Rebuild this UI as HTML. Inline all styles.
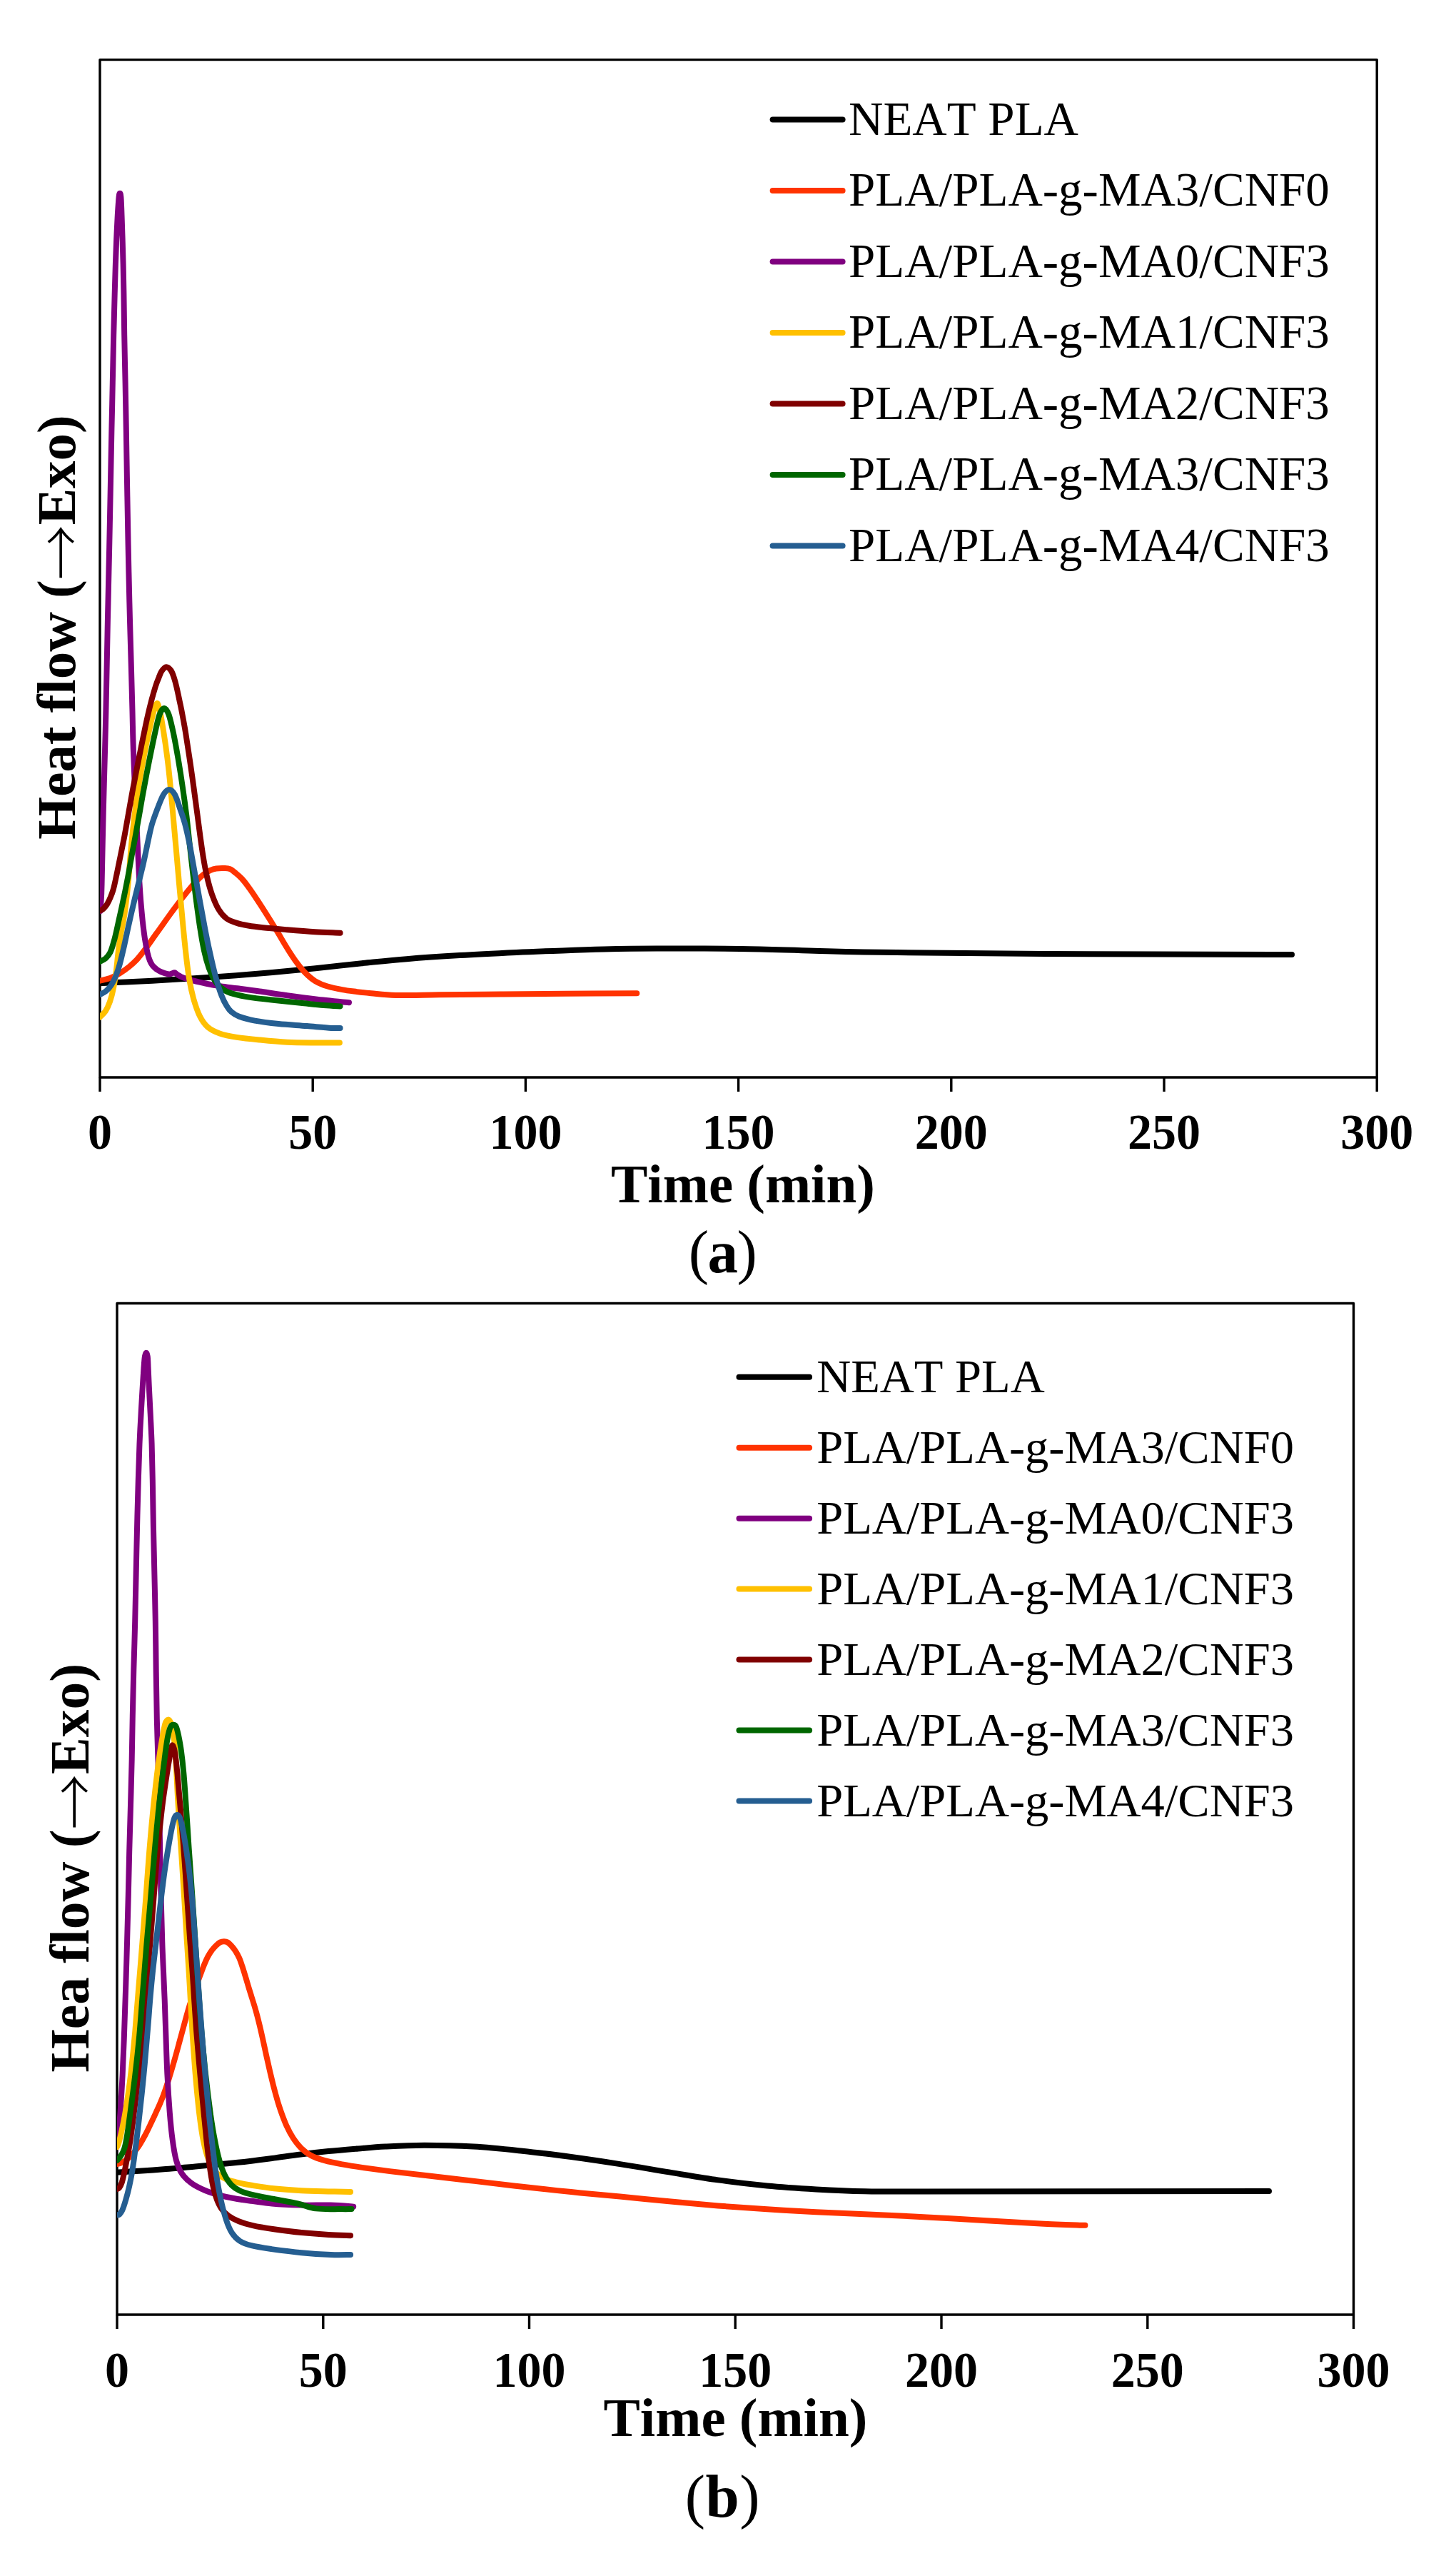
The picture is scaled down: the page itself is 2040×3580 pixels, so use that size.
<!DOCTYPE html>
<html><head><meta charset="utf-8"><title>Heat flow vs time</title>
<style>html,body{margin:0;padding:0;background:#fff;}svg{display:block;} text{font-kerning:none;font-variant-ligatures:none;}</style></head>
<body>
<svg width="2040" height="3580" viewBox="0 0 2040 3580">
<rect width="2040" height="3580" fill="#fff"/>
<clipPath id="ca"><rect x="140.0" y="83.6" width="1789.2" height="1425.4"/></clipPath>
<rect x="140.0" y="83.6" width="1789.2" height="1425.4" fill="none" stroke="#000" stroke-width="3.4" stroke-linejoin="round"/>
<line x1="140.0" y1="1509.0" x2="140.0" y2="1529.0" stroke="#000" stroke-width="3.4"/>
<line x1="438.2" y1="1509.0" x2="438.2" y2="1529.0" stroke="#000" stroke-width="3.4"/>
<line x1="736.4" y1="1509.0" x2="736.4" y2="1529.0" stroke="#000" stroke-width="3.4"/>
<line x1="1034.6" y1="1509.0" x2="1034.6" y2="1529.0" stroke="#000" stroke-width="3.4"/>
<line x1="1332.8" y1="1509.0" x2="1332.8" y2="1529.0" stroke="#000" stroke-width="3.4"/>
<line x1="1631.0" y1="1509.0" x2="1631.0" y2="1529.0" stroke="#000" stroke-width="3.4"/>
<line x1="1929.2" y1="1509.0" x2="1929.2" y2="1529.0" stroke="#000" stroke-width="3.4"/>
<g clip-path="url(#ca)" fill="none" stroke-width="8.0" stroke-linecap="round" stroke-linejoin="round">
<path d="M140.0 1377.3 C146.0 1377.0 163.8 1376.0 176.0 1375.4 C188.2 1374.8 200.5 1374.4 213.4 1373.7 C226.3 1373.0 240.6 1372.1 253.5 1371.3 C266.4 1370.5 277.9 1369.8 290.8 1368.9 C303.7 1368.1 315.7 1367.4 330.9 1366.3 C346.0 1365.1 363.3 1363.7 381.8 1362.0 C400.4 1360.4 421.3 1358.3 442.1 1356.2 C463.0 1354.0 485.6 1351.4 506.9 1349.2 C528.2 1347.1 547.0 1345.0 569.9 1343.2 C592.8 1341.3 618.6 1339.6 644.2 1338.1 C669.8 1336.5 699.5 1335.1 723.6 1334.0 C747.6 1332.8 768.0 1332.1 788.4 1331.4 C808.8 1330.6 824.2 1330.0 846.1 1329.5 C868.0 1329.0 888.1 1328.6 920.0 1328.5 C951.9 1328.4 1000.7 1328.5 1037.4 1329.0 C1074.1 1329.5 1103.8 1330.8 1140.4 1331.7 C1177.0 1332.6 1203.0 1333.4 1256.8 1334.1 C1310.6 1334.8 1371.1 1335.6 1463.3 1336.0 C1555.5 1336.5 1752.2 1336.8 1810.0 1337.0" stroke="#000000"/>
<path d="M140.0 1373.7 C142.4 1373.1 149.4 1371.8 154.1 1370.1 C158.8 1368.3 163.7 1365.8 168.1 1363.1 C172.6 1360.5 177.0 1357.2 181.0 1354.0 C184.9 1350.8 188.0 1348.0 191.8 1344.0 C195.5 1339.9 198.7 1335.8 203.3 1329.7 C207.9 1323.5 213.5 1315.4 219.4 1307.2 C225.4 1298.9 232.6 1288.5 238.8 1280.0 C245.1 1271.4 251.6 1262.6 256.7 1256.1 C261.8 1249.5 265.8 1244.7 269.3 1240.5 C272.9 1236.4 275.2 1234.0 277.9 1231.3 C280.7 1228.6 283.2 1226.3 285.9 1224.3 C288.7 1222.3 291.6 1220.5 294.4 1219.2 C297.3 1217.9 299.7 1217.0 303.0 1216.5 C306.3 1216.0 310.8 1215.9 314.0 1216.0 C317.2 1216.1 319.5 1216.0 322.2 1217.2 C324.9 1218.4 327.7 1220.8 330.4 1223.0 C333.2 1225.2 335.9 1227.6 338.7 1230.5 C341.4 1233.5 344.2 1237.0 347.0 1240.8 C349.8 1244.5 352.4 1248.4 355.5 1252.9 C358.5 1257.4 361.7 1262.2 365.3 1267.8 C368.9 1273.5 373.2 1280.2 377.4 1286.8 C381.5 1293.3 385.9 1300.6 390.0 1307.4 C394.1 1314.2 398.0 1321.0 402.0 1327.5 C406.1 1334.0 410.1 1340.5 414.4 1346.3 C418.7 1352.2 423.2 1357.9 427.8 1362.6 C432.4 1367.3 436.7 1371.1 441.9 1374.3 C447.1 1377.4 452.7 1379.6 458.9 1381.5 C465.2 1383.5 472.5 1384.9 479.4 1386.1 C486.2 1387.4 493.2 1388.2 500.0 1389.1 C506.8 1390.0 510.9 1390.5 520.0 1391.3 C529.1 1392.1 538.7 1393.7 554.6 1394.0 C570.5 1394.3 590.9 1393.6 615.4 1393.3 C639.9 1393.0 672.3 1392.7 701.9 1392.5 C731.5 1392.2 761.0 1391.9 792.8 1391.8 C824.5 1391.6 875.7 1391.4 892.3 1391.3" stroke="#FF3300"/>
<path d="M140.5 1276.0 C140.7 1274.2 141.1 1269.1 141.4 1265.0 C141.7 1260.9 141.9 1257.7 142.2 1251.2 C142.4 1244.8 142.6 1238.4 142.8 1226.2 C143.1 1214.1 143.4 1196.8 143.8 1178.3 C144.2 1159.9 144.7 1136.4 145.3 1115.6 C145.8 1094.8 146.5 1073.4 147.0 1053.5 C147.5 1033.5 148.0 1015.6 148.4 995.9 C148.9 976.3 149.2 956.7 149.6 935.5 C150.0 914.3 150.5 891.1 150.9 868.8 C151.4 846.4 152.0 823.7 152.4 801.5 C152.9 779.3 153.4 757.9 153.8 735.8 C154.2 713.6 154.7 691.1 155.1 668.8 C155.5 646.4 156.0 623.7 156.4 601.5 C156.9 579.3 157.4 557.9 157.8 535.8 C158.3 513.6 158.8 489.6 159.2 468.8 C159.7 447.9 160.2 427.2 160.7 410.8 C161.1 394.3 161.5 382.8 161.9 370.0 C162.4 357.2 162.8 345.6 163.2 334.1 C163.7 322.7 164.3 310.9 164.8 301.2 C165.4 291.6 166.1 281.1 166.6 276.0 C167.1 270.9 167.5 270.8 168.0 270.8 C168.5 270.8 169.0 270.9 169.4 276.0 C169.8 281.1 170.2 291.6 170.5 301.2 C170.9 310.9 171.2 322.7 171.6 334.1 C171.9 345.6 172.3 357.2 172.6 370.0 C172.9 382.8 173.1 394.3 173.4 410.8 C173.6 427.2 173.9 447.9 174.2 468.8 C174.6 489.6 175.1 513.6 175.6 535.8 C176.0 557.9 176.4 579.3 176.8 601.5 C177.2 623.7 177.5 646.4 177.9 668.8 C178.3 691.1 178.7 713.6 179.1 735.8 C179.5 757.9 179.9 779.3 180.4 801.5 C180.9 823.7 181.4 846.4 182.0 868.8 C182.6 891.1 183.3 914.3 183.9 935.5 C184.4 956.7 185.0 977.0 185.5 996.0 C185.9 1015.0 186.2 1031.1 186.8 1049.2 C187.4 1067.4 188.1 1085.8 189.0 1104.8 C189.8 1123.7 191.0 1145.0 191.8 1162.8 C192.7 1180.5 193.3 1196.1 194.1 1211.0 C194.8 1225.9 195.5 1239.1 196.5 1252.2 C197.4 1265.4 198.7 1279.1 199.8 1290.0 C201.0 1300.9 202.2 1310.1 203.4 1317.6 C204.5 1325.1 205.6 1330.2 206.7 1334.9 C207.8 1339.5 208.8 1342.7 210.0 1345.6 C211.2 1348.6 212.4 1350.6 213.9 1352.6 C215.4 1354.5 217.3 1356.0 219.2 1357.5 C221.2 1358.9 222.8 1360.0 225.7 1361.2 C228.6 1362.4 233.9 1364.1 236.4 1364.5 C238.9 1364.9 239.1 1364.0 240.5 1363.6 C241.9 1363.2 243.2 1361.9 244.6 1362.2 C246.0 1362.5 247.0 1364.3 249.0 1365.5 C251.0 1366.7 253.2 1367.9 256.6 1369.2 C260.0 1370.4 264.2 1371.7 269.4 1373.1 C274.7 1374.5 281.4 1376.2 288.0 1377.5 C294.6 1378.9 301.4 1380.1 308.8 1381.2 C316.2 1382.4 323.3 1383.1 332.4 1384.3 C341.6 1385.5 352.0 1386.8 363.7 1388.5 C375.4 1390.2 388.9 1392.4 402.4 1394.2 C415.9 1396.1 430.2 1398.0 444.6 1399.7 C459.1 1401.4 481.6 1403.5 489.0 1404.2" stroke="#800080"/>
<path d="M140.0 1424.5 C141.3 1423.1 145.4 1419.8 147.8 1416.2 C150.1 1412.6 152.1 1408.2 154.0 1402.8 C155.9 1397.5 157.5 1391.4 158.9 1384.3 C160.4 1377.2 161.6 1368.9 162.8 1360.2 C163.9 1351.6 164.7 1341.3 165.8 1332.6 C166.9 1323.9 167.9 1316.7 169.3 1308.1 C170.8 1299.6 172.6 1293.1 174.3 1281.5 C176.0 1269.8 177.8 1255.2 179.5 1238.2 C181.2 1221.2 182.3 1200.0 184.4 1179.5 C186.5 1159.0 189.0 1136.0 192.0 1115.4 C195.0 1094.9 199.0 1073.7 202.3 1056.1 C205.7 1038.5 209.2 1021.8 212.0 1010.0 C214.8 998.2 217.3 987.8 219.3 985.5 C221.3 983.2 222.3 989.4 224.0 996.0 C225.7 1002.6 227.4 1014.0 229.2 1025.1 C231.0 1036.2 232.9 1049.3 234.5 1062.3 C236.2 1075.4 237.7 1090.1 239.0 1103.6 C240.3 1117.0 241.4 1129.4 242.6 1143.0 C243.8 1156.7 245.0 1169.8 246.4 1185.4 C247.8 1201.0 249.4 1219.2 250.9 1236.6 C252.5 1254.0 254.3 1273.2 255.8 1289.7 C257.4 1306.1 258.9 1321.9 260.4 1335.3 C261.9 1348.7 263.2 1359.7 265.0 1370.3 C266.7 1380.8 268.7 1389.9 271.1 1398.7 C273.6 1407.4 276.4 1416.0 279.7 1422.7 C283.0 1429.3 286.4 1434.4 291.0 1438.5 C295.7 1442.6 300.9 1445.0 307.7 1447.4 C314.5 1449.8 322.4 1451.4 331.8 1452.9 C341.1 1454.4 351.9 1455.4 363.7 1456.5 C375.5 1457.7 389.1 1459.1 402.4 1459.8 C415.7 1460.5 431.4 1460.4 443.6 1460.5 C455.9 1460.6 470.5 1460.5 475.9 1460.5" stroke="#FFC000"/>
<path d="M140.0 1275.5 C140.8 1275.1 143.1 1274.4 144.8 1272.9 C146.5 1271.3 148.4 1269.0 150.1 1266.3 C151.8 1263.6 153.4 1260.2 154.8 1256.8 C156.2 1253.4 157.3 1250.7 158.7 1246.0 C160.0 1241.2 161.2 1235.7 162.8 1228.0 C164.5 1220.3 166.6 1209.3 168.6 1199.8 C170.5 1190.2 172.6 1180.4 174.5 1170.6 C176.3 1160.8 177.8 1152.0 179.8 1140.8 C181.8 1129.6 184.0 1116.7 186.5 1103.6 C189.0 1090.5 192.0 1075.3 194.6 1062.3 C197.1 1049.4 199.8 1036.3 202.0 1025.9 C204.1 1015.5 205.8 1007.6 207.6 999.9 C209.4 992.1 211.0 985.8 212.7 979.3 C214.5 972.8 216.4 966.2 218.0 961.1 C219.6 956.0 221.1 952.3 222.6 948.8 C224.0 945.2 224.8 942.4 226.5 940.0 C228.2 937.6 230.8 934.4 233.0 934.2 C235.2 934.0 237.7 936.6 239.5 939.0 C241.3 941.4 242.3 944.8 243.6 948.5 C244.8 952.2 245.9 956.0 247.1 961.1 C248.4 966.3 249.7 972.8 251.1 979.3 C252.4 985.8 253.9 992.1 255.3 999.9 C256.8 1007.6 258.3 1015.5 260.0 1025.9 C261.7 1036.3 263.7 1049.4 265.6 1062.3 C267.6 1075.3 269.7 1090.5 271.5 1103.6 C273.3 1116.7 275.0 1129.5 276.5 1140.8 C278.0 1152.1 279.2 1161.4 280.5 1171.2 C281.9 1181.0 283.0 1190.0 284.6 1199.4 C286.1 1208.8 287.8 1218.5 289.9 1227.5 C292.0 1236.5 294.5 1245.8 297.3 1253.6 C300.1 1261.4 303.2 1268.8 306.6 1274.2 C309.9 1279.7 313.3 1283.5 317.5 1286.6 C321.7 1289.7 326.8 1291.2 331.9 1292.9 C336.9 1294.5 341.8 1295.4 347.9 1296.5 C354.0 1297.5 359.6 1298.2 368.7 1299.2 C377.8 1300.2 390.3 1301.2 402.4 1302.2 C414.5 1303.2 429.2 1304.4 441.5 1305.2 C453.9 1305.9 470.8 1306.4 476.6 1306.7" stroke="#800000"/>
<path d="M140.0 1346.8 C141.3 1346.1 145.6 1344.6 148.0 1342.4 C150.4 1340.2 152.5 1338.3 154.6 1333.7 C156.7 1329.1 158.5 1322.7 160.6 1314.9 C162.7 1307.0 164.9 1296.2 167.0 1286.7 C169.1 1277.2 171.3 1267.5 173.3 1257.9 C175.3 1248.3 177.2 1238.9 179.1 1229.1 C180.9 1219.3 182.7 1208.8 184.4 1199.2 C186.2 1189.7 187.9 1181.2 189.6 1171.6 C191.4 1161.9 193.1 1152.6 195.1 1141.3 C197.1 1130.0 199.3 1116.8 201.8 1103.6 C204.2 1090.4 207.1 1075.2 209.7 1062.3 C212.3 1049.5 214.9 1036.6 217.2 1026.3 C219.6 1016.1 221.4 1006.7 223.5 1001.0 C225.6 995.3 227.8 992.0 230.0 992.0 C232.2 992.0 234.4 995.3 236.5 1001.0 C238.6 1006.7 240.6 1016.1 242.8 1026.2 C245.0 1036.4 247.3 1049.3 249.5 1062.2 C251.7 1075.0 254.1 1090.0 256.0 1103.5 C258.0 1117.0 259.7 1129.4 261.4 1143.0 C263.0 1156.7 264.2 1169.1 266.0 1185.4 C267.8 1201.7 270.1 1222.5 272.4 1241.0 C274.6 1259.4 277.5 1280.8 279.7 1295.9 C282.0 1310.9 283.7 1321.2 285.9 1331.2 C288.0 1341.2 290.0 1348.3 292.7 1355.8 C295.5 1363.2 298.7 1370.4 302.4 1375.6 C306.1 1380.9 310.0 1384.3 314.9 1387.2 C319.9 1390.2 325.4 1391.7 332.1 1393.4 C338.8 1395.1 346.2 1396.4 355.1 1397.6 C364.0 1398.8 374.2 1399.7 385.2 1400.9 C396.3 1402.1 409.9 1403.5 421.3 1404.7 C432.7 1405.9 444.4 1407.3 453.6 1408.1 C462.8 1408.9 472.8 1409.2 476.6 1409.4" stroke="#006600"/>
<path d="M140.0 1392.9 C141.4 1392.1 145.8 1390.5 148.4 1388.3 C151.1 1386.1 153.7 1383.0 156.0 1379.5 C158.3 1375.9 160.3 1371.9 162.2 1367.1 C164.1 1362.3 165.8 1357.6 167.7 1350.6 C169.6 1343.7 171.5 1335.6 173.8 1325.5 C176.1 1315.4 178.7 1302.4 181.6 1289.8 C184.4 1277.1 187.8 1263.0 191.0 1249.8 C194.2 1236.5 197.9 1222.3 200.7 1210.2 C203.4 1198.2 205.6 1186.7 207.6 1177.4 C209.6 1168.1 210.8 1161.9 212.9 1154.5 C215.1 1147.2 217.7 1140.3 220.3 1133.4 C223.0 1126.5 226.2 1117.6 229.0 1113.0 C231.8 1108.4 234.3 1106.0 237.0 1106.0 C239.7 1106.0 242.4 1108.4 245.0 1113.0 C247.6 1117.6 250.1 1126.5 252.5 1133.4 C254.9 1140.3 257.1 1146.1 259.3 1154.5 C261.5 1163.0 263.2 1170.3 266.0 1184.3 C268.7 1198.4 272.4 1220.1 275.8 1238.7 C279.2 1257.3 283.2 1279.9 286.3 1295.9 C289.3 1311.9 291.5 1322.7 294.2 1334.7 C296.8 1346.6 299.3 1357.8 302.1 1367.8 C304.8 1377.8 307.9 1387.8 310.6 1394.7 C313.2 1401.6 315.5 1405.4 317.8 1409.2 C320.1 1413.0 321.4 1414.9 324.2 1417.3 C327.1 1419.8 329.6 1421.7 335.1 1423.8 C340.5 1425.8 347.9 1427.9 357.1 1429.6 C366.3 1431.3 378.3 1432.8 390.4 1434.1 C402.5 1435.3 417.6 1436.1 429.9 1437.1 C442.2 1438.1 456.4 1439.4 464.2 1439.9 C472.0 1440.4 474.5 1439.9 476.6 1439.9" stroke="#255E91"/>
</g>
<g font-family="'Liberation Serif', serif" font-weight="bold" font-size="68.0" text-anchor="middle">
<text transform="translate(140.0 1609.3) scale(1 1.04)">0</text>
<text transform="translate(438.2 1609.3) scale(1 1.04)">50</text>
<text transform="translate(736.4 1609.3) scale(1 1.04)">100</text>
<text transform="translate(1034.6 1609.3) scale(1 1.04)">150</text>
<text transform="translate(1332.8 1609.3) scale(1 1.04)">200</text>
<text transform="translate(1631.0 1609.3) scale(1 1.04)">250</text>
<text transform="translate(1929.2 1609.3) scale(1 1.04)">300</text>
</g>
<text x="1041.0" y="1684.0" font-family="'Liberation Serif', serif" font-weight="bold" font-size="77.0" text-anchor="middle">Time (min)</text>
<text transform="translate(104.5 878.5) rotate(-90)" font-family="'Liberation Serif', serif" font-weight="bold" font-size="77.0" text-anchor="middle">Heat flow (<tspan font-family="'Noto Serif CJK SC', serif" font-weight="bold" dy="10">→</tspan><tspan dy="-10">Exo)</tspan></text>
<line x1="1082.6" y1="167.4" x2="1180.6" y2="167.4" stroke="#000000" stroke-width="8.0" stroke-linecap="round"/>
<text x="1189.0" y="188.9" font-family="'Liberation Serif', serif" font-size="67.0">NEAT PLA</text>
<line x1="1082.6" y1="266.9" x2="1180.6" y2="266.9" stroke="#FF3300" stroke-width="8.0" stroke-linecap="round"/>
<text x="1189.0" y="288.4" font-family="'Liberation Serif', serif" font-size="67.0">PLA/PLA-g-MA3/CNF0</text>
<line x1="1082.6" y1="366.4" x2="1180.6" y2="366.4" stroke="#800080" stroke-width="8.0" stroke-linecap="round"/>
<text x="1189.0" y="387.9" font-family="'Liberation Serif', serif" font-size="67.0">PLA/PLA-g-MA0/CNF3</text>
<line x1="1082.6" y1="465.9" x2="1180.6" y2="465.9" stroke="#FFC000" stroke-width="8.0" stroke-linecap="round"/>
<text x="1189.0" y="487.4" font-family="'Liberation Serif', serif" font-size="67.0">PLA/PLA-g-MA1/CNF3</text>
<line x1="1082.6" y1="565.4" x2="1180.6" y2="565.4" stroke="#800000" stroke-width="8.0" stroke-linecap="round"/>
<text x="1189.0" y="586.9" font-family="'Liberation Serif', serif" font-size="67.0">PLA/PLA-g-MA2/CNF3</text>
<line x1="1082.6" y1="664.9" x2="1180.6" y2="664.9" stroke="#006600" stroke-width="8.0" stroke-linecap="round"/>
<text x="1189.0" y="686.4" font-family="'Liberation Serif', serif" font-size="67.0">PLA/PLA-g-MA3/CNF3</text>
<line x1="1082.6" y1="764.4" x2="1180.6" y2="764.4" stroke="#255E91" stroke-width="8.0" stroke-linecap="round"/>
<text x="1189.0" y="785.9" font-family="'Liberation Serif', serif" font-size="67.0">PLA/PLA-g-MA4/CNF3</text>
<text x="1012.0" y="1782.0" font-family="'Liberation Serif', serif" font-size="85.0" letter-spacing="-1.5" text-anchor="middle">(<tspan font-weight="bold">a</tspan>)</text>
<clipPath id="cb"><rect x="164.0" y="1825.5" width="1732.5" height="1416.5"/></clipPath>
<rect x="164.0" y="1825.5" width="1732.5" height="1416.5" fill="none" stroke="#000" stroke-width="3.4" stroke-linejoin="round"/>
<line x1="164.0" y1="3242.0" x2="164.0" y2="3262.0" stroke="#000" stroke-width="3.4"/>
<line x1="452.8" y1="3242.0" x2="452.8" y2="3262.0" stroke="#000" stroke-width="3.4"/>
<line x1="741.5" y1="3242.0" x2="741.5" y2="3262.0" stroke="#000" stroke-width="3.4"/>
<line x1="1030.2" y1="3242.0" x2="1030.2" y2="3262.0" stroke="#000" stroke-width="3.4"/>
<line x1="1319.0" y1="3242.0" x2="1319.0" y2="3262.0" stroke="#000" stroke-width="3.4"/>
<line x1="1607.8" y1="3242.0" x2="1607.8" y2="3262.0" stroke="#000" stroke-width="3.4"/>
<line x1="1896.5" y1="3242.0" x2="1896.5" y2="3262.0" stroke="#000" stroke-width="3.4"/>
<g clip-path="url(#cb)" fill="none" stroke-width="8.0" stroke-linecap="round" stroke-linejoin="round">
<path d="M164.0 3042.5 C169.1 3042.2 183.3 3041.6 194.7 3040.8 C206.1 3040.1 219.2 3039.2 232.4 3038.1 C245.6 3037.1 260.1 3035.7 273.6 3034.5 C287.1 3033.3 300.5 3032.1 313.3 3030.8 C326.1 3029.6 338.1 3028.4 350.1 3027.0 C362.2 3025.6 373.8 3024.0 385.7 3022.4 C397.6 3020.8 409.1 3019.0 421.5 3017.5 C433.9 3015.9 446.9 3014.4 460.2 3013.1 C473.6 3011.7 488.5 3010.5 501.8 3009.4 C515.0 3008.3 524.5 3007.3 540.0 3006.5 C555.5 3005.7 574.1 3004.7 594.7 3004.7 C615.3 3004.7 640.5 3005.2 663.4 3006.5 C686.3 3007.8 709.1 3010.3 731.9 3012.7 C754.7 3015.1 777.4 3018.0 800.2 3021.0 C823.0 3024.1 845.8 3027.5 868.7 3031.1 C891.6 3034.6 914.5 3038.7 937.4 3042.4 C960.3 3046.1 983.1 3050.2 1006.0 3053.4 C1028.9 3056.6 1051.8 3059.3 1074.7 3061.5 C1097.6 3063.7 1120.5 3065.1 1143.4 3066.4 C1166.3 3067.7 1185.9 3068.7 1212.0 3069.2 C1238.1 3069.7 1205.7 3069.4 1300.0 3069.4 C1394.3 3069.4 1698.3 3069.1 1778.0 3069.0" stroke="#000000"/>
<path d="M164.0 3031.0 C165.1 3030.7 168.0 3030.3 170.8 3028.9 C173.5 3027.5 176.8 3025.7 180.4 3022.4 C184.0 3019.0 188.5 3014.2 192.3 3009.0 C196.1 3003.8 199.9 2996.9 203.1 2991.0 C206.3 2985.1 209.2 2978.8 211.7 2973.6 C214.2 2968.4 216.2 2964.1 218.1 2959.9 C220.0 2955.6 221.5 2952.5 223.3 2948.3 C225.1 2944.1 226.8 2940.4 228.9 2934.7 C231.0 2929.1 233.4 2922.1 235.8 2914.3 C238.3 2906.5 241.1 2896.9 243.7 2887.9 C246.3 2879.0 248.9 2869.3 251.3 2860.4 C253.8 2851.4 256.1 2842.5 258.4 2834.2 C260.6 2826.0 262.8 2818.2 264.9 2811.1 C267.1 2804.1 269.2 2797.8 271.1 2792.0 C273.1 2786.2 275.0 2781.2 276.8 2776.4 C278.6 2771.5 280.3 2767.1 281.9 2762.8 C283.5 2758.4 285.0 2754.3 286.6 2750.6 C288.2 2746.8 289.7 2743.4 291.4 2740.2 C293.2 2737.0 295.1 2734.0 297.0 2731.4 C299.0 2728.8 301.2 2726.4 303.1 2724.6 C305.0 2722.8 306.7 2721.2 308.5 2720.3 C310.3 2719.4 312.1 2719.2 313.9 2719.2 C315.6 2719.2 317.2 2719.4 319.0 2720.5 C320.8 2721.6 322.7 2723.5 324.6 2725.7 C326.5 2727.8 328.6 2730.5 330.4 2733.3 C332.1 2736.1 333.7 2739.0 335.2 2742.4 C336.7 2745.8 337.9 2749.5 339.3 2753.6 C340.7 2757.7 342.0 2762.3 343.4 2766.8 C344.8 2771.3 346.1 2775.8 347.6 2780.8 C349.1 2785.9 350.7 2790.8 352.6 2797.1 C354.6 2803.3 356.8 2810.1 359.0 2818.3 C361.3 2826.5 363.7 2836.4 366.0 2846.3 C368.3 2856.2 370.7 2867.7 372.9 2877.8 C375.2 2887.8 377.3 2897.7 379.5 2906.8 C381.6 2915.9 383.7 2924.3 386.0 2932.5 C388.2 2940.7 390.5 2948.5 393.1 2955.9 C395.7 2963.3 398.4 2970.6 401.3 2977.1 C404.3 2983.6 407.5 2989.6 410.9 2994.9 C414.4 3000.2 417.9 3004.8 422.1 3008.8 C426.2 3012.8 430.4 3016.2 435.9 3019.1 C441.4 3022.0 447.8 3024.1 455.1 3026.2 C462.3 3028.3 470.6 3029.8 479.4 3031.4 C488.1 3033.0 496.3 3034.3 507.4 3035.9 C518.5 3037.5 530.6 3039.1 546.2 3041.1 C561.8 3043.0 581.1 3045.2 600.9 3047.5 C620.6 3049.8 642.9 3052.3 664.7 3054.9 C686.6 3057.5 709.3 3060.3 731.9 3062.8 C754.5 3065.4 777.4 3067.8 800.2 3070.1 C823.0 3072.4 845.8 3074.4 868.7 3076.6 C891.6 3078.8 914.5 3081.1 937.4 3083.3 C960.3 3085.4 983.1 3087.6 1006.0 3089.5 C1028.9 3091.3 1051.8 3092.9 1074.7 3094.3 C1097.6 3095.8 1119.7 3097.0 1143.4 3098.2 C1167.1 3099.4 1191.0 3100.4 1216.8 3101.6 C1242.7 3102.7 1271.0 3104.0 1298.6 3105.4 C1326.2 3106.8 1355.8 3108.7 1382.4 3110.2 C1409.0 3111.7 1435.1 3113.3 1458.1 3114.4 C1481.1 3115.5 1510.0 3116.4 1520.4 3116.8" stroke="#FF3300"/>
<path d="M164.0 3004.0 C164.1 3003.0 164.5 3000.8 164.9 2997.8 C165.2 2994.8 165.6 2992.8 166.2 2986.0 C166.9 2979.1 167.8 2969.8 168.7 2956.8 C169.6 2943.7 170.7 2925.5 171.6 2907.5 C172.5 2889.5 173.3 2868.8 174.0 2848.5 C174.8 2828.2 175.4 2807.3 176.1 2785.6 C176.8 2764.0 177.5 2740.6 178.1 2718.7 C178.7 2696.8 179.2 2674.9 179.8 2654.0 C180.3 2633.1 180.7 2614.3 181.2 2593.4 C181.8 2572.5 182.4 2550.3 183.0 2528.7 C183.6 2507.1 184.2 2484.9 184.7 2464.0 C185.1 2443.1 185.4 2424.3 185.8 2403.4 C186.3 2382.5 186.8 2360.7 187.3 2338.7 C187.9 2316.7 188.7 2293.7 189.2 2271.5 C189.7 2249.4 190.1 2228.2 190.6 2205.9 C191.1 2183.6 191.5 2159.9 192.1 2137.7 C192.6 2115.5 193.2 2092.2 193.8 2072.9 C194.4 2053.7 194.9 2037.5 195.5 2022.0 C196.1 2006.5 196.8 1993.2 197.6 1979.9 C198.3 1966.6 199.1 1952.9 199.8 1942.1 C200.4 1931.3 201.0 1922.3 201.5 1915.2 C202.1 1908.0 202.4 1902.9 203.0 1899.5 C203.6 1896.1 204.3 1894.7 204.9 1894.7 C205.5 1894.7 206.2 1896.1 206.7 1899.5 C207.2 1902.9 207.3 1908.0 207.6 1915.1 C208.0 1922.3 208.3 1931.4 208.8 1942.2 C209.3 1952.9 210.0 1966.6 210.7 1979.9 C211.3 1993.2 212.1 2006.5 212.6 2022.0 C213.1 2037.5 213.4 2053.6 213.8 2072.9 C214.2 2092.2 214.5 2115.6 214.9 2137.7 C215.3 2159.8 216.0 2183.4 216.4 2205.6 C216.9 2227.8 217.4 2248.3 217.8 2271.0 C218.2 2293.7 218.4 2319.1 218.7 2341.8 C219.1 2364.6 219.3 2387.8 219.8 2407.4 C220.2 2427.1 220.8 2440.7 221.3 2459.8 C221.8 2478.8 222.4 2498.4 222.9 2521.5 C223.4 2544.6 223.9 2573.9 224.3 2598.5 C224.8 2623.1 225.4 2648.9 225.9 2669.2 C226.3 2689.6 226.8 2705.0 227.3 2720.3 C227.8 2735.6 228.4 2747.7 229.0 2761.2 C229.5 2774.7 230.2 2787.1 230.7 2801.5 C231.3 2815.9 231.7 2830.5 232.3 2847.8 C232.9 2865.1 233.5 2886.7 234.4 2905.2 C235.3 2923.8 236.6 2943.6 237.8 2959.0 C239.0 2974.4 240.3 2986.8 241.8 2997.8 C243.3 3008.8 244.6 3017.3 246.7 3025.1 C248.9 3032.8 251.1 3038.8 254.8 3044.3 C258.4 3049.8 263.1 3054.1 268.5 3058.0 C273.9 3061.9 280.8 3065.2 287.4 3068.0 C294.0 3070.8 301.1 3073.0 308.0 3074.9 C314.9 3076.7 321.4 3078.0 328.8 3079.3 C336.2 3080.6 343.7 3081.6 352.4 3082.8 C361.2 3083.9 369.5 3085.5 381.2 3086.5 C392.9 3087.5 408.7 3088.2 422.4 3088.6 C436.1 3088.9 451.5 3088.2 463.6 3088.6 C475.7 3088.9 489.9 3090.3 495.2 3090.7" stroke="#800080"/>
<path d="M164.0 3007.0 C164.3 3006.2 165.1 3005.2 166.1 3002.0 C167.0 2998.8 168.2 2995.2 169.8 2987.7 C171.5 2980.1 173.7 2970.3 175.9 2956.7 C178.1 2943.2 180.9 2924.9 183.1 2906.5 C185.3 2888.1 187.3 2866.8 189.2 2846.5 C191.0 2826.2 192.5 2805.7 194.2 2784.6 C196.0 2763.5 197.8 2741.3 199.5 2719.9 C201.2 2698.6 202.9 2677.4 204.5 2656.5 C206.1 2635.6 207.4 2615.2 209.1 2594.6 C210.8 2574.0 212.8 2551.4 214.7 2532.8 C216.5 2514.3 218.6 2496.9 220.2 2483.4 C221.9 2469.9 223.2 2460.7 224.5 2451.8 C225.9 2442.9 227.0 2436.2 228.2 2429.9 C229.3 2423.7 230.3 2417.6 231.5 2414.0 C232.7 2410.4 234.2 2408.8 235.5 2408.6 C236.8 2408.4 238.3 2410.5 239.3 2413.0 C240.3 2415.5 240.9 2419.1 241.7 2423.6 C242.6 2428.1 243.6 2431.9 244.4 2439.9 C245.2 2448.0 245.8 2457.2 246.7 2472.0 C247.6 2486.8 248.4 2508.1 249.7 2528.7 C250.9 2549.3 252.6 2574.0 254.1 2595.7 C255.5 2617.4 256.9 2639.0 258.2 2658.9 C259.5 2678.9 260.5 2698.1 261.6 2715.1 C262.7 2732.1 263.7 2746.8 264.6 2761.2 C265.5 2775.6 266.1 2787.1 266.9 2801.5 C267.8 2815.9 268.5 2830.5 269.6 2847.8 C270.8 2865.1 272.2 2886.6 273.8 2905.2 C275.4 2923.9 277.2 2943.9 279.1 2959.5 C281.0 2975.1 282.7 2987.8 285.0 2998.8 C287.2 3009.8 289.5 3018.3 292.5 3025.6 C295.5 3032.9 299.0 3038.3 302.8 3042.6 C306.6 3046.9 310.6 3049.2 315.2 3051.5 C319.8 3053.8 324.3 3054.8 330.5 3056.3 C336.7 3057.8 343.6 3059.3 352.4 3060.8 C361.3 3062.2 372.0 3064.0 383.7 3065.2 C395.4 3066.5 409.7 3067.5 422.4 3068.2 C435.1 3068.9 448.7 3069.1 460.2 3069.4 C471.6 3069.7 485.9 3069.9 491.1 3070.0" stroke="#FFC000"/>
<path d="M164.0 3066.0 C164.5 3065.7 166.0 3065.8 167.2 3064.2 C168.3 3062.8 169.4 3060.9 170.7 3057.0 C171.9 3053.1 173.3 3047.0 174.6 3040.9 C175.9 3034.8 177.3 3027.5 178.6 3020.6 C179.9 3013.7 180.9 3008.6 182.3 2999.5 C183.7 2990.4 185.0 2980.8 186.9 2965.9 C188.8 2950.9 191.4 2930.1 193.6 2909.9 C195.8 2889.8 198.3 2866.2 200.3 2844.7 C202.3 2823.2 203.8 2801.8 205.5 2780.9 C207.3 2760.0 208.9 2739.5 210.5 2719.1 C212.2 2698.8 213.8 2679.2 215.4 2658.6 C217.0 2638.0 218.5 2616.6 220.4 2595.7 C222.3 2574.7 224.8 2551.3 227.0 2532.8 C229.2 2514.4 231.9 2497.4 233.8 2484.9 C235.6 2472.5 237.1 2464.7 238.3 2458.0 C239.5 2451.3 240.2 2446.3 241.1 2444.8 C242.0 2443.3 243.0 2446.4 243.8 2449.0 C244.6 2451.6 245.1 2454.4 245.9 2460.4 C246.7 2466.4 247.4 2472.9 248.6 2484.9 C249.8 2497.0 251.3 2514.4 252.8 2532.8 C254.4 2551.3 256.3 2574.7 257.8 2595.7 C259.4 2616.7 260.8 2639.0 262.2 2658.9 C263.6 2678.9 264.9 2698.1 266.1 2715.1 C267.4 2732.1 268.6 2746.8 269.6 2761.2 C270.6 2775.6 271.3 2787.1 272.2 2801.5 C273.2 2815.9 274.0 2829.9 275.4 2847.8 C276.8 2865.6 278.9 2889.0 280.7 2908.7 C282.5 2928.4 284.6 2949.9 286.2 2965.9 C287.8 2981.9 288.8 2992.8 290.1 3004.6 C291.5 3016.5 292.7 3027.1 294.1 3036.8 C295.5 3046.6 297.1 3056.0 298.8 3063.4 C300.4 3070.8 302.1 3076.1 304.0 3081.2 C306.0 3086.3 307.7 3090.1 310.4 3093.8 C313.0 3097.6 316.1 3100.5 320.1 3103.4 C324.2 3106.3 328.9 3109.0 334.6 3111.2 C340.3 3113.5 346.0 3115.3 354.2 3117.1 C362.3 3119.0 372.3 3120.6 383.7 3122.3 C395.1 3123.9 409.7 3125.8 422.4 3127.1 C435.1 3128.3 448.7 3129.3 460.2 3130.0 C471.6 3130.7 485.9 3131.0 491.1 3131.2" stroke="#800000"/>
<path d="M164.0 3026.0 C164.9 3024.9 167.7 3022.2 169.4 3019.5 C171.1 3016.8 172.7 3014.3 174.1 3009.8 C175.5 3005.2 176.4 3000.9 177.8 2992.4 C179.2 2983.9 180.7 2972.6 182.6 2958.5 C184.5 2944.3 187.1 2925.5 189.2 2907.5 C191.4 2889.5 193.5 2870.1 195.3 2850.4 C197.1 2830.8 198.4 2810.9 200.1 2789.8 C201.8 2768.6 203.6 2745.4 205.4 2723.6 C207.2 2701.8 209.3 2680.3 211.1 2658.9 C213.0 2637.6 214.6 2616.7 216.4 2595.7 C218.3 2574.7 220.4 2551.5 222.4 2532.8 C224.3 2514.1 226.6 2496.9 228.2 2483.4 C229.8 2469.9 230.9 2460.5 232.1 2451.8 C233.3 2443.1 234.3 2436.6 235.4 2431.1 C236.6 2425.5 237.7 2421.1 239.0 2418.5 C240.3 2415.9 242.0 2415.6 243.3 2415.7 C244.6 2415.8 245.9 2416.4 247.0 2419.0 C248.1 2421.6 249.0 2425.7 250.2 2431.2 C251.3 2436.7 252.6 2443.1 253.8 2451.8 C255.0 2460.5 256.1 2469.9 257.3 2483.4 C258.5 2496.9 259.7 2515.3 260.9 2532.8 C262.2 2550.3 263.5 2571.5 264.6 2588.4 C265.8 2605.3 266.8 2618.7 267.9 2634.3 C269.0 2650.0 270.0 2665.3 271.2 2682.5 C272.4 2699.7 273.6 2719.6 274.8 2737.5 C276.0 2755.4 277.0 2772.1 278.3 2790.0 C279.5 2807.9 280.7 2825.2 282.3 2844.7 C284.0 2864.2 286.1 2887.3 288.2 2906.8 C290.4 2926.4 293.0 2946.8 295.1 2962.2 C297.3 2977.6 299.2 2988.8 301.3 2999.4 C303.3 3010.0 305.1 3017.9 307.4 3025.8 C309.6 3033.6 312.0 3040.6 314.8 3046.3 C317.6 3052.0 320.5 3056.4 324.0 3060.1 C327.6 3063.7 330.9 3066.0 335.9 3068.4 C341.0 3070.7 346.2 3072.3 354.2 3074.2 C362.1 3076.1 373.2 3078.0 383.7 3080.0 C394.2 3082.1 407.4 3084.3 417.2 3086.5 C427.1 3088.8 433.0 3092.1 443.0 3093.4 C453.0 3094.7 469.1 3094.0 477.4 3094.1 C485.6 3094.2 490.0 3094.1 492.5 3094.1" stroke="#006600"/>
<path d="M164.0 3102.3 C164.5 3102.2 166.0 3102.6 167.2 3101.6 C168.3 3100.5 169.6 3099.4 171.1 3096.1 C172.6 3092.8 174.4 3087.4 176.1 3081.6 C177.8 3075.9 179.7 3068.6 181.2 3061.8 C182.7 3055.0 184.0 3048.7 185.3 3040.7 C186.6 3032.7 187.6 3025.6 189.1 3013.9 C190.7 3002.3 192.5 2988.1 194.5 2970.5 C196.5 2953.0 199.1 2929.2 201.1 2908.7 C203.1 2888.2 205.0 2865.6 206.5 2847.8 C208.1 2829.9 209.0 2815.9 210.2 2801.5 C211.4 2787.1 212.5 2775.6 214.0 2761.2 C215.5 2746.8 217.5 2731.0 219.3 2715.1 C221.1 2699.2 223.1 2681.1 224.9 2665.8 C226.8 2650.5 228.5 2636.2 230.3 2623.1 C232.2 2610.0 234.2 2597.4 235.9 2587.0 C237.7 2576.6 239.3 2567.2 240.8 2560.4 C242.2 2553.6 243.3 2549.1 244.5 2546.0 C245.7 2542.9 246.9 2542.0 248.2 2542.0 C249.4 2542.0 250.7 2542.9 252.0 2546.0 C253.3 2549.1 254.3 2553.6 255.7 2560.4 C257.1 2567.2 258.7 2576.6 260.4 2587.0 C262.0 2597.4 263.9 2610.0 265.4 2623.1 C266.9 2636.2 268.3 2650.5 269.6 2665.8 C270.9 2681.1 272.1 2699.2 273.2 2715.1 C274.4 2731.0 275.5 2746.8 276.5 2761.2 C277.5 2775.6 278.3 2787.1 279.3 2801.5 C280.4 2815.9 281.4 2829.9 282.8 2847.8 C284.2 2865.6 286.1 2889.0 287.8 2908.7 C289.6 2928.4 291.7 2949.9 293.3 2965.9 C294.9 2981.9 296.1 2992.1 297.6 3004.6 C299.1 3017.2 300.4 3028.8 302.2 3041.2 C304.1 3053.6 306.6 3067.8 309.0 3079.0 C311.4 3090.1 313.9 3100.1 316.6 3108.2 C319.2 3116.3 321.9 3122.6 325.1 3127.7 C328.4 3132.9 331.8 3136.1 336.3 3139.0 C340.9 3141.9 345.1 3143.4 352.4 3145.2 C359.7 3147.1 368.6 3148.4 380.2 3150.1 C391.9 3151.7 408.5 3153.9 422.4 3155.2 C436.3 3156.5 452.2 3157.5 463.6 3158.0 C475.1 3158.5 486.5 3158.0 491.1 3158.0" stroke="#255E91"/>
</g>
<g font-family="'Liberation Serif', serif" font-weight="bold" font-size="68.0" text-anchor="middle">
<text transform="translate(164.0 3342.5) scale(1 1.04)">0</text>
<text transform="translate(452.8 3342.5) scale(1 1.04)">50</text>
<text transform="translate(741.5 3342.5) scale(1 1.04)">100</text>
<text transform="translate(1030.2 3342.5) scale(1 1.04)">150</text>
<text transform="translate(1319.0 3342.5) scale(1 1.04)">200</text>
<text transform="translate(1607.8 3342.5) scale(1 1.04)">250</text>
<text transform="translate(1896.5 3342.5) scale(1 1.04)">300</text>
</g>
<text x="1030.5" y="3412.2" font-family="'Liberation Serif', serif" font-weight="bold" font-size="77.0" text-anchor="middle">Time (min)</text>
<text transform="translate(124.3 2616.2) rotate(-90)" font-family="'Liberation Serif', serif" font-weight="bold" font-size="77.5" text-anchor="middle">Hea flow (<tspan font-family="'Noto Serif CJK SC', serif" font-weight="bold" dy="10">→</tspan><tspan dy="-10">Exo)</tspan></text>
<line x1="1035.5" y1="1928.8" x2="1134.1" y2="1928.8" stroke="#000000" stroke-width="8.0" stroke-linecap="round"/>
<text x="1144.2" y="1950.3" font-family="'Liberation Serif', serif" font-size="66.5">NEAT PLA</text>
<line x1="1035.5" y1="2027.7" x2="1134.1" y2="2027.7" stroke="#FF3300" stroke-width="8.0" stroke-linecap="round"/>
<text x="1144.2" y="2049.2" font-family="'Liberation Serif', serif" font-size="66.5">PLA/PLA-g-MA3/CNF0</text>
<line x1="1035.5" y1="2126.7" x2="1134.1" y2="2126.7" stroke="#800080" stroke-width="8.0" stroke-linecap="round"/>
<text x="1144.2" y="2148.2" font-family="'Liberation Serif', serif" font-size="66.5">PLA/PLA-g-MA0/CNF3</text>
<line x1="1035.5" y1="2225.6" x2="1134.1" y2="2225.6" stroke="#FFC000" stroke-width="8.0" stroke-linecap="round"/>
<text x="1144.2" y="2247.1" font-family="'Liberation Serif', serif" font-size="66.5">PLA/PLA-g-MA1/CNF3</text>
<line x1="1035.5" y1="2324.5" x2="1134.1" y2="2324.5" stroke="#800000" stroke-width="8.0" stroke-linecap="round"/>
<text x="1144.2" y="2346.0" font-family="'Liberation Serif', serif" font-size="66.5">PLA/PLA-g-MA2/CNF3</text>
<line x1="1035.5" y1="2423.4" x2="1134.1" y2="2423.4" stroke="#006600" stroke-width="8.0" stroke-linecap="round"/>
<text x="1144.2" y="2444.9" font-family="'Liberation Serif', serif" font-size="66.5">PLA/PLA-g-MA3/CNF3</text>
<line x1="1035.5" y1="2522.4" x2="1134.1" y2="2522.4" stroke="#255E91" stroke-width="8.0" stroke-linecap="round"/>
<text x="1144.2" y="2543.9" font-family="'Liberation Serif', serif" font-size="66.5">PLA/PLA-g-MA4/CNF3</text>
<text x="1012.4" y="3524.5" font-family="'Liberation Serif', serif" font-size="85.0" letter-spacing="0.5" text-anchor="middle">(<tspan font-weight="bold">b</tspan>)</text>
</svg>
</body></html>
